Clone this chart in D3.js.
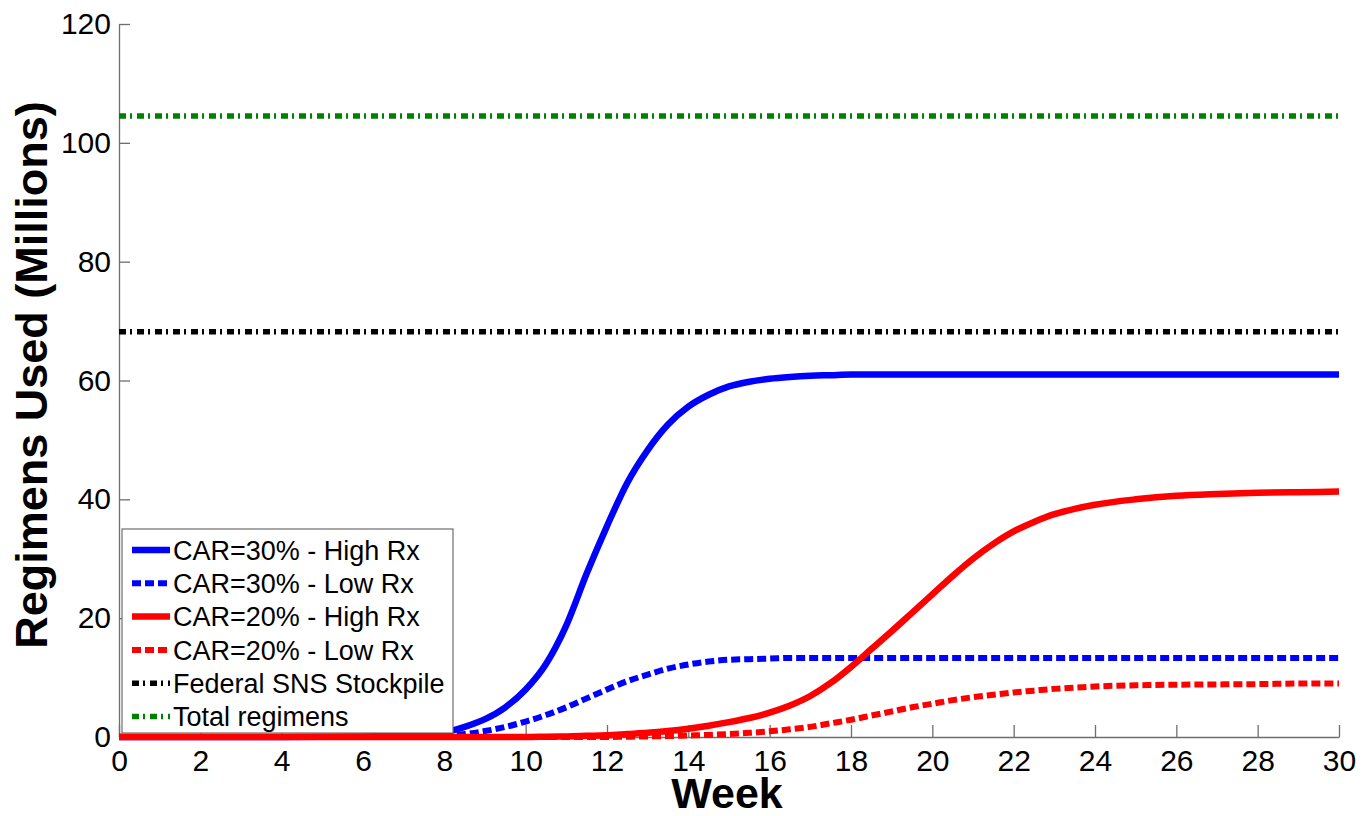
<!DOCTYPE html>
<html>
<head>
<meta charset="utf-8">
<script src="https://cdn.jsdelivr.net/npm/d3@7"></script>
<style>
  body { margin: 0; background: #fff; }
  text { font-family: "Liberation Sans", Arial, sans-serif; }
</style>
</head>
<body>
<div id="container"></div>
<script>
// data (millions of regimens)
const weeks = [0, 2, 4, 6, 7, 8, 8.5, 9, 9.5, 10, 10.5, 11, 11.5, 12, 12.5, 13, 13.5, 14, 14.5, 15, 15.5, 16, 16.5,
               17, 17.5, 18, 18.5, 19, 19.5, 20, 20.5, 21, 21.5, 22, 22.5, 23, 23.5, 24, 25, 26, 27, 28, 29, 30];

const car30High = [0, 0, 0, 0.1, 0.3, 0.8, 1.7, 3.0, 5.0, 8.0, 12.3, 18.8, 27.5, 35.5, 42.8, 48.3, 52.6, 55.6, 57.6, 59.0, 59.8, 60.3, 60.6,
                   60.8, 60.9, 61, 61, 61, 61, 61, 61, 61, 61, 61, 61, 61, 61, 61, 61, 61, 61, 61, 61, 61];
const car30Low  = [0, 0, 0, 0, 0.1, 0.2, 0.5, 1.0, 1.7, 2.6, 3.7, 5.0, 6.5, 8.0, 9.4, 10.5, 11.5, 12.2, 12.7, 13.0, 13.1, 13.2, 13.3,
                   13.3, 13.3, 13.3, 13.3, 13.3, 13.3, 13.3, 13.3, 13.3, 13.3, 13.3, 13.3, 13.3, 13.3, 13.3, 13.3, 13.3, 13.3, 13.3, 13.3, 13.3];
const car20High = [0, 0, 0, 0, 0, 0, 0, 0, 0, 0, 0.05, 0.1, 0.2, 0.3, 0.5, 0.7, 1.0, 1.4, 1.9, 2.5, 3.2, 4.1, 5.3,
                   6.9, 9.1, 11.8, 14.8, 17.8, 20.9, 24.0, 27.1, 30.0, 32.5, 34.6, 36.2, 37.5, 38.4, 39.1, 40.0, 40.6, 40.9, 41.1, 41.2, 41.3];
const car20Low  = [0, 0, 0, 0, 0, 0, 0, 0, 0, 0, 0, 0, 0, 0, 0.05, 0.1, 0.15, 0.25, 0.35, 0.5, 0.7, 0.95, 1.3,
                   1.7, 2.3, 2.9, 3.6, 4.3, 5.0, 5.6, 6.2, 6.7, 7.1, 7.5, 7.8, 8.1, 8.3, 8.5, 8.7, 8.8, 8.85, 8.9, 9.0, 9.0];

const snsStockpile = 68.2;
const totalRegimens = 104.5;

const xTicks = d3.range(0, 31, 2);
const yTicks = [0, 20, 40, 60, 80, 100, 120];

const seriesNames = ["CAR=30% - High Rx", "CAR=30% - Low Rx", "CAR=20% - High Rx", "CAR=20% - Low Rx",
                     "Federal SNS Stockpile", "Total regimens"];

// chart
const width = 1372, height = 816;
const plot = {left: 119, right: 1339, top: 24, bottom: 737};

const svg = d3.select("#container").append("svg")
  .attr("width", width)
  .attr("height", height);

const xScale = d3.scaleLinear().domain([0, 30]).range([plot.left, plot.right]);
const yScale = d3.scaleLinear().domain([0, 120]).range([plot.bottom, plot.top]);

// AXES
const xAxis = d3.axisBottom(xScale).tickValues(xTicks).tickSizeInner(-12).tickSizeOuter(0).tickPadding(13);
const yAxis = d3.axisLeft(yScale).tickValues(yTicks).tickSizeInner(-11).tickSizeOuter(0).tickPadding(8);

const gx = svg.append("g").attr("transform", `translate(0,${plot.bottom})`).call(xAxis);
const gy = svg.append("g").attr("transform", `translate(${plot.left},0)`).call(yAxis);

[gx, gy].forEach(g => {
  g.select(".domain").attr("stroke", "#6e6e6e").attr("stroke-width", 1.3);
  g.selectAll(".tick line").attr("stroke", "#6e6e6e").attr("stroke-width", 1.3);
  g.selectAll(".tick text")
    .attr("fill", "#000")
    .style("font-family", "'Liberation Sans', Arial, sans-serif")
    .style("font-size", "30px");
});

svg.append("text")
  .attr("x", 727).attr("y", 808)
  .attr("text-anchor", "middle")
  .style("font-size", "43px").style("font-weight", "bold")
  .text("Week");

svg.append("text")
  .attr("transform", "translate(47,375) rotate(-90)")
  .attr("text-anchor", "middle")
  .style("font-size", "45px").style("font-weight", "bold")
  .text("Regimens Used (Millions)");

// SERIES
const styles = [
  {color: "#0000ff", dash: null,        width: 6.5},
  {color: "#0000ff", dash: "9,4",       width: 6},
  {color: "#ff0000", dash: null,        width: 6.5},
  {color: "#ff0000", dash: "9,4",       width: 6},
  {color: "#000000", dash: "7,4,2,5",   width: 5.5},
  {color: "#008000", dash: "7,4,2,5",   width: 5.5}
];

const curves = [car30High, car30Low, car20High, car20Low].map(vals =>
  weeks.map((w, i) => ({week: w, value: vals[i]})));
const flat = [snsStockpile, totalRegimens].map(v =>
  [{week: 0, value: v}, {week: 30, value: v}]);
const allSeries = curves.concat(flat);

const lineGen = d3.line()
  .curve(d3.curveMonotoneX)
  .x(d => xScale(d.week))
  .y(d => yScale(d.value));

svg.append("g").selectAll("path")
  .data(allSeries)
  .join("path")
    .attr("d", d => lineGen(d))
    .attr("fill", "none")
    .attr("stroke", (d, i) => styles[i].color)
    .attr("stroke-width", (d, i) => styles[i].width)
    .attr("stroke-dasharray", (d, i) => styles[i].dash);

// LEGEND
const legend = svg.append("g");
legend.append("rect")
  .attr("x", 122).attr("y", 529)
  .attr("width", 331).attr("height", 204)
  .attr("fill", "#fff")
  .attr("stroke", "#6e6e6e").attr("stroke-width", 1.2);

const rows = legend.selectAll(".row")
  .data(seriesNames)
  .join("g")
    .attr("class", "row")
    .attr("transform", (d, i) => `translate(0,${550 + i * 33.3})`);

rows.append("line")
  .attr("x1", 132).attr("x2", 170)
  .attr("stroke", (d, i) => styles[i].color)
  .attr("stroke-width", (d, i) => styles[i].width)
  .attr("stroke-dasharray", (d, i) => styles[i].dash);

rows.append("text")
  .attr("x", 173).attr("dy", "0.36em")
  .style("font-size", "27px")
  .text(d => d);
</script>
</body>
</html>
